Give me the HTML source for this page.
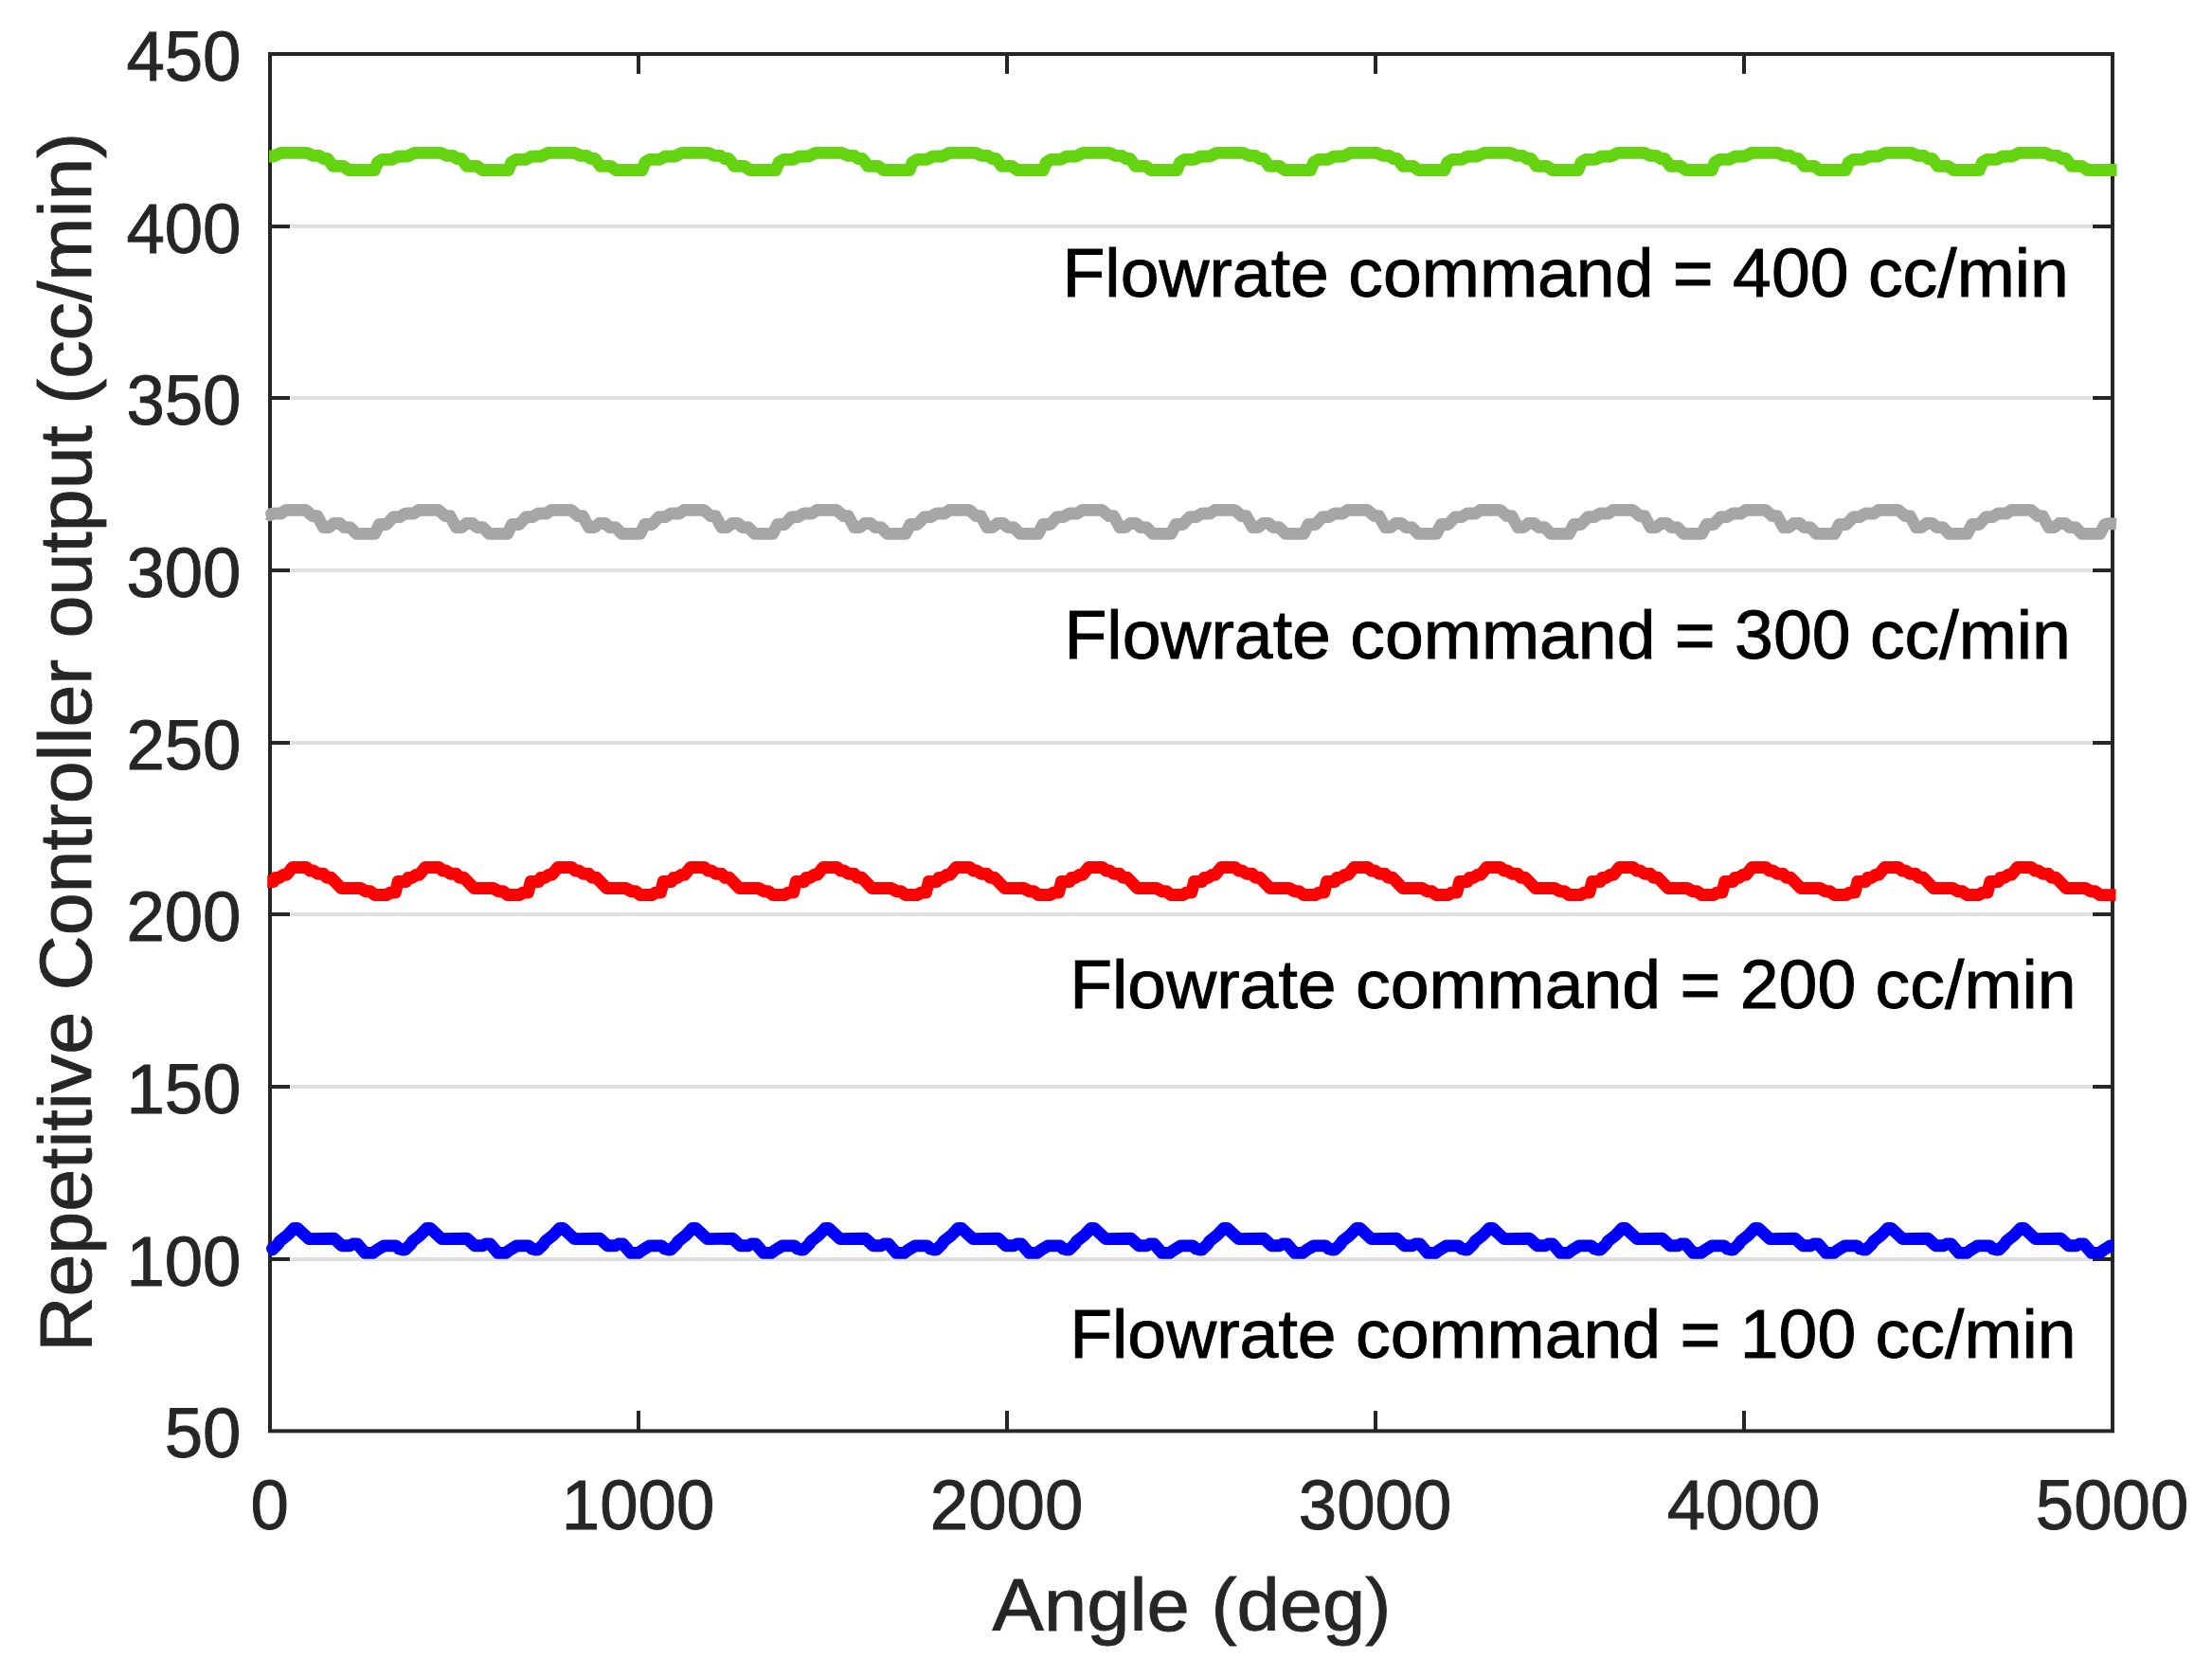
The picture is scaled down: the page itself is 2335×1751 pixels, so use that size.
<!DOCTYPE html>
<html lang="en"><head><meta charset="utf-8"><title>Repetitive Controller output</title>
<style>html,body{margin:0;padding:0;background:#fff;}body{width:2335px;height:1751px;overflow:hidden;}svg{display:block;}text{font-family:"Liberation Sans",sans-serif;}.tk{font-size:72.60px;fill:#262626;stroke:#262626;stroke-width:0.9px;}.lb{font-size:80.00px;fill:#262626;stroke:#262626;stroke-width:0.9px;}.an{font-size:73.40px;fill:#000;stroke:#000;stroke-width:0.9px;}</style></head><body>
<svg width="2335" height="1751" viewBox="0 0 2335 1751">
<rect x="0" y="0" width="2335" height="1751" fill="#fff"/>
<g stroke="#dfdfdf" stroke-width="4">
<line x1="307" y1="1329.00" x2="2208" y2="1329.00"/>
<line x1="307" y1="1147.00" x2="2208" y2="1147.00"/>
<line x1="307" y1="965.00" x2="2208" y2="965.00"/>
<line x1="307" y1="784.00" x2="2208" y2="784.00"/>
<line x1="307" y1="602.00" x2="2208" y2="602.00"/>
<line x1="307" y1="420.00" x2="2208" y2="420.00"/>
<line x1="307" y1="239.00" x2="2208" y2="239.00"/>
</g>
<g stroke="#262626" stroke-width="4">
<line x1="286" y1="1329.00" x2="306" y2="1329.00"/>
<line x1="2209" y1="1329.00" x2="2229" y2="1329.00"/>
<line x1="286" y1="1147.00" x2="306" y2="1147.00"/>
<line x1="2209" y1="1147.00" x2="2229" y2="1147.00"/>
<line x1="286" y1="965.00" x2="306" y2="965.00"/>
<line x1="2209" y1="965.00" x2="2229" y2="965.00"/>
<line x1="286" y1="784.00" x2="306" y2="784.00"/>
<line x1="2209" y1="784.00" x2="2229" y2="784.00"/>
<line x1="286" y1="602.00" x2="306" y2="602.00"/>
<line x1="2209" y1="602.00" x2="2229" y2="602.00"/>
<line x1="286" y1="420.00" x2="306" y2="420.00"/>
<line x1="2209" y1="420.00" x2="2229" y2="420.00"/>
<line x1="286" y1="239.00" x2="306" y2="239.00"/>
<line x1="2209" y1="239.00" x2="2229" y2="239.00"/>
<line x1="674.00" y1="58" x2="674.00" y2="78"/>
<line x1="674.00" y1="1489" x2="674.00" y2="1509"/>
<line x1="1063.00" y1="58" x2="1063.00" y2="78"/>
<line x1="1063.00" y1="1489" x2="1063.00" y2="1509"/>
<line x1="1452.00" y1="58" x2="1452.00" y2="78"/>
<line x1="1452.00" y1="1489" x2="1452.00" y2="1509"/>
<line x1="1841.00" y1="58" x2="1841.00" y2="78"/>
<line x1="1841.00" y1="1489" x2="1841.00" y2="1509"/>
</g>
<rect x="285.00" y="57.00" width="1945.00" height="1453.40" fill="none" stroke="#262626" stroke-width="4"/>
<path d="M284.0 165.0 L285.0 165.0 L289.0 165.0 L296.3 161.4 L324.1 161.4 L330.6 164.4 L337.1 164.4 L341.5 167.5 L345.8 167.5 L351.6 175.4 L362.5 175.4 L368.2 179.5 L395.5 179.5 L398.5 171.5 L403.5 168.4 L413.8 168.4 L419.6 165.3 L426.2 165.0 L430.2 165.0 L437.5 161.4 L465.3 161.4 L471.8 164.4 L478.3 164.4 L482.7 167.5 L487.0 167.5 L492.8 175.4 L503.7 175.4 L509.4 179.5 L536.7 179.5 L539.7 171.5 L544.7 168.4 L555.0 168.4 L560.8 165.3 L567.3 165.0 L571.3 165.0 L578.6 161.4 L606.4 161.4 L612.9 164.4 L619.4 164.4 L623.8 167.5 L628.1 167.5 L633.9 175.4 L644.8 175.4 L650.5 179.5 L677.8 179.5 L680.8 171.5 L685.8 168.4 L696.1 168.4 L701.9 165.3 L708.5 165.0 L712.5 165.0 L719.8 161.4 L747.6 161.4 L754.1 164.4 L760.6 164.4 L765.0 167.5 L769.3 167.5 L775.1 175.4 L786.0 175.4 L791.7 179.5 L819.0 179.5 L822.0 171.5 L827.0 168.4 L837.3 168.4 L843.1 165.3 L849.6 165.0 L853.6 165.0 L860.9 161.4 L888.7 161.4 L895.2 164.4 L901.7 164.4 L906.1 167.5 L910.4 167.5 L916.2 175.4 L927.1 175.4 L932.8 179.5 L960.1 179.5 L963.1 171.5 L968.1 168.4 L978.4 168.4 L984.2 165.3 L990.8 165.0 L994.8 165.0 L1002.1 161.4 L1029.9 161.4 L1036.4 164.4 L1042.9 164.4 L1047.3 167.5 L1051.6 167.5 L1057.4 175.4 L1068.3 175.4 L1074.0 179.5 L1101.3 179.5 L1104.3 171.5 L1109.3 168.4 L1119.6 168.4 L1125.4 165.3 L1132.0 165.0 L1136.0 165.0 L1143.3 161.4 L1171.1 161.4 L1177.6 164.4 L1184.1 164.4 L1188.5 167.5 L1192.8 167.5 L1198.6 175.4 L1209.5 175.4 L1215.2 179.5 L1242.5 179.5 L1245.5 171.5 L1250.5 168.4 L1260.8 168.4 L1266.6 165.3 L1273.1 165.0 L1277.1 165.0 L1284.4 161.4 L1312.2 161.4 L1318.7 164.4 L1325.2 164.4 L1329.6 167.5 L1333.9 167.5 L1339.7 175.4 L1350.6 175.4 L1356.3 179.5 L1383.6 179.5 L1386.6 171.5 L1391.6 168.4 L1401.9 168.4 L1407.7 165.3 L1414.3 165.0 L1418.3 165.0 L1425.6 161.4 L1453.4 161.4 L1459.9 164.4 L1466.4 164.4 L1470.8 167.5 L1475.1 167.5 L1480.9 175.4 L1491.8 175.4 L1497.5 179.5 L1524.8 179.5 L1527.8 171.5 L1532.8 168.4 L1543.1 168.4 L1548.9 165.3 L1555.4 165.0 L1559.4 165.0 L1566.7 161.4 L1594.5 161.4 L1601.0 164.4 L1607.5 164.4 L1611.9 167.5 L1616.2 167.5 L1622.0 175.4 L1632.9 175.4 L1638.6 179.5 L1665.9 179.5 L1668.9 171.5 L1673.9 168.4 L1684.2 168.4 L1690.0 165.3 L1696.6 165.0 L1700.6 165.0 L1707.9 161.4 L1735.7 161.4 L1742.2 164.4 L1748.7 164.4 L1753.1 167.5 L1757.4 167.5 L1763.2 175.4 L1774.1 175.4 L1779.8 179.5 L1807.1 179.5 L1810.1 171.5 L1815.1 168.4 L1825.4 168.4 L1831.2 165.3 L1837.8 165.0 L1841.8 165.0 L1849.1 161.4 L1876.9 161.4 L1883.4 164.4 L1889.9 164.4 L1894.3 167.5 L1898.6 167.5 L1904.4 175.4 L1915.3 175.4 L1921.0 179.5 L1948.3 179.5 L1951.3 171.5 L1956.3 168.4 L1966.6 168.4 L1972.4 165.3 L1978.9 165.0 L1982.9 165.0 L1990.2 161.4 L2018.0 161.4 L2024.5 164.4 L2031.0 164.4 L2035.4 167.5 L2039.7 167.5 L2045.5 175.4 L2056.4 175.4 L2062.1 179.5 L2089.4 179.5 L2092.4 171.5 L2097.4 168.4 L2107.7 168.4 L2113.5 165.3 L2120.1 165.0 L2124.1 165.0 L2131.4 161.4 L2159.2 161.4 L2165.7 164.4 L2172.2 164.4 L2176.6 167.5 L2180.9 167.5 L2186.7 175.4 L2197.6 175.4 L2203.3 179.5 L2234.5 179.5" fill="none" stroke="#64d411" stroke-width="12.9" stroke-linejoin="round" stroke-linecap="butt"/>
<path d="M283.0 542.6 L285.0 543.7 L288.2 542.0 L296.6 542.0 L301.7 538.4 L322.7 538.4 L330.0 544.7 L335.0 544.7 L341.5 556.6 L347.3 556.6 L352.3 552.5 L358.8 552.5 L363.2 556.6 L369.7 556.6 L376.2 563.4 L395.5 563.4 L400.5 553.5 L408.0 553.5 L415.3 545.6 L421.8 545.6 L425.1 543.7 L428.3 542.0 L436.7 542.0 L441.8 538.4 L462.8 538.4 L470.1 544.7 L475.1 544.7 L481.6 556.6 L487.4 556.6 L492.4 552.5 L498.9 552.5 L503.3 556.6 L509.8 556.6 L516.3 563.4 L535.6 563.4 L540.6 553.5 L548.1 553.5 L555.4 545.6 L561.9 545.6 L565.2 543.7 L568.4 542.0 L576.8 542.0 L581.9 538.4 L602.9 538.4 L610.2 544.7 L615.2 544.7 L621.7 556.6 L627.5 556.6 L632.5 552.5 L639.0 552.5 L643.4 556.6 L649.9 556.6 L656.4 563.4 L675.7 563.4 L680.7 553.5 L688.2 553.5 L695.5 545.6 L702.0 545.6 L705.3 543.7 L708.5 542.0 L716.9 542.0 L722.0 538.4 L743.0 538.4 L750.3 544.7 L755.3 544.7 L761.8 556.6 L767.6 556.6 L772.6 552.5 L779.1 552.5 L783.5 556.6 L790.0 556.6 L796.5 563.4 L815.8 563.4 L820.8 553.5 L828.3 553.5 L835.6 545.6 L842.1 545.6 L845.4 543.7 L848.6 542.0 L857.0 542.0 L862.1 538.4 L883.1 538.4 L890.4 544.7 L895.4 544.7 L901.9 556.6 L907.7 556.6 L912.7 552.5 L919.2 552.5 L923.6 556.6 L930.1 556.6 L936.6 563.4 L955.9 563.4 L960.9 553.5 L968.4 553.5 L975.7 545.6 L982.2 545.6 L985.5 543.7 L988.7 542.0 L997.1 542.0 L1002.2 538.4 L1023.2 538.4 L1030.5 544.7 L1035.5 544.7 L1042.0 556.6 L1047.8 556.6 L1052.8 552.5 L1059.3 552.5 L1063.7 556.6 L1070.2 556.6 L1076.7 563.4 L1096.0 563.4 L1101.0 553.5 L1108.5 553.5 L1115.8 545.6 L1122.3 545.6 L1125.6 543.7 L1128.8 542.0 L1137.2 542.0 L1142.3 538.4 L1163.3 538.4 L1170.6 544.7 L1175.6 544.7 L1182.1 556.6 L1187.9 556.6 L1192.9 552.5 L1199.4 552.5 L1203.8 556.6 L1210.3 556.6 L1216.8 563.4 L1236.1 563.4 L1241.1 553.5 L1248.6 553.5 L1255.9 545.6 L1262.4 545.6 L1265.7 543.7 L1268.9 542.0 L1277.3 542.0 L1282.4 538.4 L1303.4 538.4 L1310.7 544.7 L1315.7 544.7 L1322.2 556.6 L1328.0 556.6 L1333.0 552.5 L1339.5 552.5 L1343.9 556.6 L1350.4 556.6 L1356.9 563.4 L1376.2 563.4 L1381.2 553.5 L1388.7 553.5 L1396.0 545.6 L1402.5 545.6 L1405.8 543.7 L1409.0 542.0 L1417.4 542.0 L1422.5 538.4 L1443.5 538.4 L1450.8 544.7 L1455.8 544.7 L1462.3 556.6 L1468.1 556.6 L1473.1 552.5 L1479.6 552.5 L1484.0 556.6 L1490.5 556.6 L1497.0 563.4 L1516.3 563.4 L1521.3 553.5 L1528.8 553.5 L1536.1 545.6 L1542.6 545.6 L1545.9 543.7 L1549.1 542.0 L1557.5 542.0 L1562.6 538.4 L1583.6 538.4 L1590.9 544.7 L1595.9 544.7 L1602.4 556.6 L1608.2 556.6 L1613.2 552.5 L1619.7 552.5 L1624.1 556.6 L1630.6 556.6 L1637.1 563.4 L1656.4 563.4 L1661.4 553.5 L1668.9 553.5 L1676.2 545.6 L1682.7 545.6 L1686.0 543.7 L1689.2 542.0 L1697.6 542.0 L1702.7 538.4 L1723.7 538.4 L1731.0 544.7 L1736.0 544.7 L1742.5 556.6 L1748.3 556.6 L1753.3 552.5 L1759.8 552.5 L1764.2 556.6 L1770.7 556.6 L1777.2 563.4 L1796.5 563.4 L1801.5 553.5 L1809.0 553.5 L1816.3 545.6 L1822.8 545.6 L1826.1 543.7 L1829.3 542.0 L1837.7 542.0 L1842.8 538.4 L1863.8 538.4 L1871.1 544.7 L1876.1 544.7 L1882.6 556.6 L1888.4 556.6 L1893.4 552.5 L1899.9 552.5 L1904.3 556.6 L1910.8 556.6 L1917.3 563.4 L1936.6 563.4 L1941.6 553.5 L1949.1 553.5 L1956.4 545.6 L1962.9 545.6 L1966.2 543.7 L1969.4 542.0 L1977.8 542.0 L1982.9 538.4 L2003.9 538.4 L2011.2 544.7 L2016.2 544.7 L2022.7 556.6 L2028.5 556.6 L2033.5 552.5 L2040.0 552.5 L2044.4 556.6 L2050.9 556.6 L2057.4 563.4 L2076.7 563.4 L2081.7 553.5 L2089.2 553.5 L2096.5 545.6 L2103.0 545.6 L2106.3 543.7 L2109.5 542.0 L2117.9 542.0 L2123.0 538.4 L2144.0 538.4 L2151.3 544.7 L2156.3 544.7 L2162.8 556.6 L2168.6 556.6 L2173.6 552.5 L2180.1 552.5 L2184.5 556.6 L2191.0 556.6 L2197.5 563.4 L2216.8 563.4 L2221.8 553.5 L2226.0 552.6 L2234.0 553.2" fill="none" stroke="#a6a6a6" stroke-width="12.8" stroke-linejoin="round" stroke-linecap="butt"/>
<path d="M282.2 930.5 L285.0 930.5 L288.5 930.5 L290.8 926.5 L294.5 926.5 L299.5 923.3 L302.4 923.3 L308.9 915.4 L323.4 915.4 L327.0 918.9 L330.6 918.9 L335.7 922.3 L341.5 922.3 L345.1 926.3 L349.4 926.3 L360.3 937.5 L380.5 937.5 L386.3 940.7 L390.7 940.7 L395.7 944.5 L408.0 944.5 L412.4 942.0 L417.3 942.0 L420.2 930.5 L425.1 930.5 L428.6 930.5 L430.9 926.5 L434.6 926.5 L439.6 923.3 L442.5 923.3 L449.0 915.4 L463.5 915.4 L467.1 918.9 L470.7 918.9 L475.8 922.3 L481.6 922.3 L485.2 926.3 L489.5 926.3 L500.4 937.5 L520.6 937.5 L526.4 940.7 L530.8 940.7 L535.8 944.5 L548.1 944.5 L552.5 942.0 L557.4 942.0 L560.3 930.5 L565.1 930.5 L568.6 930.5 L570.9 926.5 L574.6 926.5 L579.6 923.3 L582.5 923.3 L589.0 915.4 L603.5 915.4 L607.1 918.9 L610.7 918.9 L615.8 922.3 L621.6 922.3 L625.2 926.3 L629.5 926.3 L640.4 937.5 L660.6 937.5 L666.4 940.7 L670.8 940.7 L675.8 944.5 L688.1 944.5 L692.5 942.0 L697.4 942.0 L700.3 930.5 L705.2 930.5 L708.7 930.5 L711.0 926.5 L714.7 926.5 L719.7 923.3 L722.6 923.3 L729.1 915.4 L743.6 915.4 L747.2 918.9 L750.8 918.9 L755.9 922.3 L761.7 922.3 L765.3 926.3 L769.6 926.3 L780.5 937.5 L800.7 937.5 L806.5 940.7 L810.9 940.7 L815.9 944.5 L828.2 944.5 L832.6 942.0 L837.5 942.0 L840.4 930.5 L845.2 930.5 L848.7 930.5 L851.0 926.5 L854.7 926.5 L859.7 923.3 L862.6 923.3 L869.1 915.4 L883.6 915.4 L887.2 918.9 L890.8 918.9 L895.9 922.3 L901.7 922.3 L905.3 926.3 L909.6 926.3 L920.5 937.5 L940.7 937.5 L946.5 940.7 L950.9 940.7 L955.9 944.5 L968.2 944.5 L972.6 942.0 L977.5 942.0 L980.4 930.5 L985.3 930.5 L988.8 930.5 L991.1 926.5 L994.8 926.5 L999.8 923.3 L1002.7 923.3 L1009.2 915.4 L1023.7 915.4 L1027.3 918.9 L1030.9 918.9 L1036.0 922.3 L1041.8 922.3 L1045.4 926.3 L1049.7 926.3 L1060.6 937.5 L1080.8 937.5 L1086.6 940.7 L1091.0 940.7 L1096.0 944.5 L1108.3 944.5 L1112.7 942.0 L1117.6 942.0 L1120.5 930.5 L1125.4 930.5 L1128.9 930.5 L1131.2 926.5 L1134.9 926.5 L1139.9 923.3 L1142.8 923.3 L1149.3 915.4 L1163.8 915.4 L1167.4 918.9 L1171.0 918.9 L1176.1 922.3 L1181.9 922.3 L1185.5 926.3 L1189.8 926.3 L1200.7 937.5 L1220.9 937.5 L1226.7 940.7 L1231.1 940.7 L1236.1 944.5 L1248.4 944.5 L1252.8 942.0 L1257.7 942.0 L1260.6 930.5 L1265.4 930.5 L1268.9 930.5 L1271.2 926.5 L1274.9 926.5 L1279.9 923.3 L1282.8 923.3 L1289.3 915.4 L1303.8 915.4 L1307.4 918.9 L1311.0 918.9 L1316.1 922.3 L1321.9 922.3 L1325.5 926.3 L1329.8 926.3 L1340.7 937.5 L1360.9 937.5 L1366.7 940.7 L1371.1 940.7 L1376.1 944.5 L1388.4 944.5 L1392.8 942.0 L1397.7 942.0 L1400.6 930.5 L1405.5 930.5 L1409.0 930.5 L1411.3 926.5 L1415.0 926.5 L1420.0 923.3 L1422.9 923.3 L1429.4 915.4 L1443.9 915.4 L1447.5 918.9 L1451.1 918.9 L1456.2 922.3 L1462.0 922.3 L1465.6 926.3 L1469.9 926.3 L1480.8 937.5 L1501.0 937.5 L1506.8 940.7 L1511.2 940.7 L1516.2 944.5 L1528.5 944.5 L1532.9 942.0 L1537.8 942.0 L1540.7 930.5 L1545.5 930.5 L1549.0 930.5 L1551.3 926.5 L1555.0 926.5 L1560.0 923.3 L1562.9 923.3 L1569.4 915.4 L1583.9 915.4 L1587.5 918.9 L1591.1 918.9 L1596.2 922.3 L1602.0 922.3 L1605.6 926.3 L1609.9 926.3 L1620.8 937.5 L1641.0 937.5 L1646.8 940.7 L1651.2 940.7 L1656.2 944.5 L1668.5 944.5 L1672.9 942.0 L1677.8 942.0 L1680.7 930.5 L1685.6 930.5 L1689.1 930.5 L1691.4 926.5 L1695.1 926.5 L1700.1 923.3 L1703.0 923.3 L1709.5 915.4 L1724.0 915.4 L1727.6 918.9 L1731.2 918.9 L1736.3 922.3 L1742.1 922.3 L1745.7 926.3 L1750.0 926.3 L1760.9 937.5 L1781.1 937.5 L1786.9 940.7 L1791.3 940.7 L1796.3 944.5 L1808.6 944.5 L1813.0 942.0 L1817.9 942.0 L1820.8 930.5 L1825.7 930.5 L1829.2 930.5 L1831.5 926.5 L1835.2 926.5 L1840.2 923.3 L1843.1 923.3 L1849.6 915.4 L1864.1 915.4 L1867.7 918.9 L1871.3 918.9 L1876.4 922.3 L1882.2 922.3 L1885.8 926.3 L1890.1 926.3 L1901.0 937.5 L1921.2 937.5 L1927.0 940.7 L1931.4 940.7 L1936.4 944.5 L1948.7 944.5 L1953.1 942.0 L1958.0 942.0 L1960.9 930.5 L1965.7 930.5 L1969.2 930.5 L1971.5 926.5 L1975.2 926.5 L1980.2 923.3 L1983.1 923.3 L1989.6 915.4 L2004.1 915.4 L2007.7 918.9 L2011.3 918.9 L2016.4 922.3 L2022.2 922.3 L2025.8 926.3 L2030.1 926.3 L2041.0 937.5 L2061.2 937.5 L2067.0 940.7 L2071.4 940.7 L2076.4 944.5 L2088.7 944.5 L2093.1 942.0 L2098.0 942.0 L2100.9 930.5 L2105.8 930.5 L2109.3 930.5 L2111.6 926.5 L2115.3 926.5 L2120.3 923.3 L2123.2 923.3 L2129.7 915.4 L2144.2 915.4 L2147.8 918.9 L2151.4 918.9 L2156.5 922.3 L2162.3 922.3 L2165.9 926.3 L2170.2 926.3 L2181.1 937.5 L2201.3 937.5 L2207.1 940.7 L2211.5 940.7 L2216.5 944.5 L2233.5 944.8" fill="none" stroke="#ff0000" stroke-width="13.0" stroke-linejoin="round" stroke-linecap="butt"/>
<path d="M283.5 1319.2 L285.0 1319.0 L287.6 1318.8 L293.2 1313.4 L295.4 1310.0 L304.0 1303.2 L310.3 1296.5 L314.1 1296.5 L326.0 1307.6 L352.8 1307.3 L360.9 1314.8 L369.1 1314.8 L372.3 1313.0 L377.2 1313.0 L385.4 1322.4 L393.5 1322.4 L398.0 1319.2 L405.3 1314.9 L417.9 1314.9 L421.5 1318.1 L425.2 1319.0 L427.8 1318.8 L433.4 1313.4 L435.6 1310.0 L444.2 1303.2 L450.5 1296.5 L454.3 1296.5 L466.2 1307.6 L493.0 1307.3 L501.1 1314.8 L509.3 1314.8 L512.5 1313.0 L517.4 1313.0 L525.6 1322.4 L533.7 1322.4 L538.2 1319.2 L545.5 1314.9 L558.1 1314.9 L561.7 1318.1 L565.4 1319.0 L568.0 1318.8 L573.6 1313.4 L575.8 1310.0 L584.4 1303.2 L590.7 1296.5 L594.5 1296.5 L606.4 1307.6 L633.2 1307.3 L641.3 1314.8 L649.5 1314.8 L652.7 1313.0 L657.6 1313.0 L665.8 1322.4 L673.9 1322.4 L678.4 1319.2 L685.7 1314.9 L698.3 1314.9 L701.9 1318.1 L705.6 1319.0 L708.2 1318.8 L713.8 1313.4 L716.0 1310.0 L724.6 1303.2 L730.9 1296.5 L734.7 1296.5 L746.6 1307.6 L773.4 1307.3 L781.5 1314.8 L789.7 1314.8 L792.9 1313.0 L797.8 1313.0 L806.0 1322.4 L814.1 1322.4 L818.6 1319.2 L825.9 1314.9 L838.5 1314.9 L842.1 1318.1 L845.8 1319.0 L848.4 1318.8 L854.0 1313.4 L856.2 1310.0 L864.8 1303.2 L871.1 1296.5 L874.9 1296.5 L886.8 1307.6 L913.6 1307.3 L921.7 1314.8 L929.9 1314.8 L933.1 1313.0 L938.0 1313.0 L946.2 1322.4 L954.3 1322.4 L958.8 1319.2 L966.1 1314.9 L978.7 1314.9 L982.3 1318.1 L986.0 1319.0 L988.6 1318.8 L994.2 1313.4 L996.4 1310.0 L1005.0 1303.2 L1011.3 1296.5 L1015.1 1296.5 L1027.0 1307.6 L1053.8 1307.3 L1061.9 1314.8 L1070.1 1314.8 L1073.3 1313.0 L1078.2 1313.0 L1086.4 1322.4 L1094.5 1322.4 L1099.0 1319.2 L1106.3 1314.9 L1118.9 1314.9 L1122.5 1318.1 L1126.2 1319.0 L1128.8 1318.8 L1134.4 1313.4 L1136.6 1310.0 L1145.2 1303.2 L1151.5 1296.5 L1155.3 1296.5 L1167.2 1307.6 L1194.0 1307.3 L1202.1 1314.8 L1210.3 1314.8 L1213.5 1313.0 L1218.4 1313.0 L1226.6 1322.4 L1234.7 1322.4 L1239.2 1319.2 L1246.5 1314.9 L1259.1 1314.9 L1262.7 1318.1 L1266.4 1319.0 L1269.0 1318.8 L1274.6 1313.4 L1276.8 1310.0 L1285.4 1303.2 L1291.7 1296.5 L1295.5 1296.5 L1307.4 1307.6 L1334.2 1307.3 L1342.3 1314.8 L1350.5 1314.8 L1353.7 1313.0 L1358.6 1313.0 L1366.8 1322.4 L1374.9 1322.4 L1379.4 1319.2 L1386.7 1314.9 L1399.3 1314.9 L1402.9 1318.1 L1406.6 1319.0 L1409.2 1318.8 L1414.8 1313.4 L1417.0 1310.0 L1425.6 1303.2 L1431.9 1296.5 L1435.7 1296.5 L1447.6 1307.6 L1474.4 1307.3 L1482.5 1314.8 L1490.7 1314.8 L1493.9 1313.0 L1498.8 1313.0 L1507.0 1322.4 L1515.1 1322.4 L1519.6 1319.2 L1526.9 1314.9 L1539.5 1314.9 L1543.1 1318.1 L1546.8 1319.0 L1549.4 1318.8 L1555.0 1313.4 L1557.2 1310.0 L1565.8 1303.2 L1572.1 1296.5 L1575.9 1296.5 L1587.8 1307.6 L1614.6 1307.3 L1622.7 1314.8 L1630.9 1314.8 L1634.1 1313.0 L1639.0 1313.0 L1647.2 1322.4 L1655.3 1322.4 L1659.8 1319.2 L1667.1 1314.9 L1679.7 1314.9 L1683.3 1318.1 L1687.0 1319.0 L1689.6 1318.8 L1695.2 1313.4 L1697.4 1310.0 L1706.0 1303.2 L1712.3 1296.5 L1716.1 1296.5 L1728.0 1307.6 L1754.8 1307.3 L1762.9 1314.8 L1771.1 1314.8 L1774.3 1313.0 L1779.2 1313.0 L1787.4 1322.4 L1795.5 1322.4 L1800.0 1319.2 L1807.3 1314.9 L1819.9 1314.9 L1823.5 1318.1 L1827.2 1319.0 L1829.8 1318.8 L1835.4 1313.4 L1837.6 1310.0 L1846.2 1303.2 L1852.5 1296.5 L1856.3 1296.5 L1868.2 1307.6 L1895.0 1307.3 L1903.1 1314.8 L1911.3 1314.8 L1914.5 1313.0 L1919.4 1313.0 L1927.6 1322.4 L1935.7 1322.4 L1940.2 1319.2 L1947.5 1314.9 L1960.1 1314.9 L1963.7 1318.1 L1967.4 1319.0 L1970.0 1318.8 L1975.6 1313.4 L1977.8 1310.0 L1986.4 1303.2 L1992.7 1296.5 L1996.5 1296.5 L2008.4 1307.6 L2035.2 1307.3 L2043.3 1314.8 L2051.5 1314.8 L2054.7 1313.0 L2059.6 1313.0 L2067.8 1322.4 L2075.9 1322.4 L2080.4 1319.2 L2087.7 1314.9 L2100.3 1314.9 L2103.9 1318.1 L2107.6 1319.0 L2110.2 1318.8 L2115.8 1313.4 L2118.0 1310.0 L2126.6 1303.2 L2132.9 1296.5 L2136.7 1296.5 L2148.6 1307.6 L2175.4 1307.3 L2183.5 1314.8 L2191.7 1314.8 L2194.9 1313.0 L2199.8 1313.0 L2208.0 1322.4 L2216.1 1322.4 L2220.6 1319.2 L2227.9 1314.9 L2231.2 1314.9" fill="none" stroke="#0000ff" stroke-width="12.9" stroke-linejoin="round" stroke-linecap="butt"/>
<circle cx="286.4" cy="542.3" r="6.3" fill="#a6a6a6"/>
<circle cx="287.4" cy="1318.0" r="6.4" fill="#0000ff"/>
<text class="tk" transform="translate(254.50 1538.00) scale(1.0000 1.0300)" text-anchor="end">50</text>
<text class="tk" transform="translate(254.50 1357.00) scale(1.0000 1.0300)" text-anchor="end">100</text>
<text class="tk" transform="translate(254.50 1175.00) scale(1.0000 1.0300)" text-anchor="end">150</text>
<text class="tk" transform="translate(254.50 993.00) scale(1.0000 1.0300)" text-anchor="end">200</text>
<text class="tk" transform="translate(254.50 812.00) scale(1.0000 1.0300)" text-anchor="end">250</text>
<text class="tk" transform="translate(254.50 630.00) scale(1.0000 1.0300)" text-anchor="end">300</text>
<text class="tk" transform="translate(254.50 448.00) scale(1.0000 1.0300)" text-anchor="end">350</text>
<text class="tk" transform="translate(254.50 267.00) scale(1.0000 1.0300)" text-anchor="end">400</text>
<text class="tk" transform="translate(254.50 85.00) scale(1.0000 1.0300)" text-anchor="end">450</text>
<text class="tk" transform="translate(284.60 1613.60) scale(1.0000 1.0300)" text-anchor="middle">0</text>
<text class="tk" transform="translate(673.60 1613.60) scale(1.0000 1.0300)" text-anchor="middle">1000</text>
<text class="tk" transform="translate(1062.60 1613.60) scale(1.0000 1.0300)" text-anchor="middle">2000</text>
<text class="tk" transform="translate(1451.60 1613.60) scale(1.0000 1.0300)" text-anchor="middle">3000</text>
<text class="tk" transform="translate(1840.60 1613.60) scale(1.0000 1.0300)" text-anchor="middle">4000</text>
<text class="tk" transform="translate(2229.60 1613.60) scale(1.0000 1.0300)" text-anchor="middle">5000</text>
<text class="lb" transform="translate(1258.00 1721.00) scale(1.0369 1.0000)" text-anchor="middle" style="font-size:78.50px">Angle (deg)</text>
<text class="lb" transform="translate(95.80 783.30) rotate(-90) scale(1.0280 1.0000)" text-anchor="middle" style="font-size:78.50px">Repetitive Controller output (cc/min)</text>
<text class="an" transform="translate(1121.50 313.30) scale(1.0000 0.9900)" text-anchor="start">Flowrate command = 400 cc/min</text>
<text class="an" transform="translate(1123.50 695.30) scale(1.0000 0.9900)" text-anchor="start">Flowrate command = 300 cc/min</text>
<text class="an" transform="translate(1129.20 1064.30) scale(1.0000 0.9900)" text-anchor="start">Flowrate command = 200 cc/min</text>
<text class="an" transform="translate(1129.20 1433.30) scale(1.0000 0.9900)" text-anchor="start">Flowrate command = 100 cc/min</text>
</svg></body></html>
